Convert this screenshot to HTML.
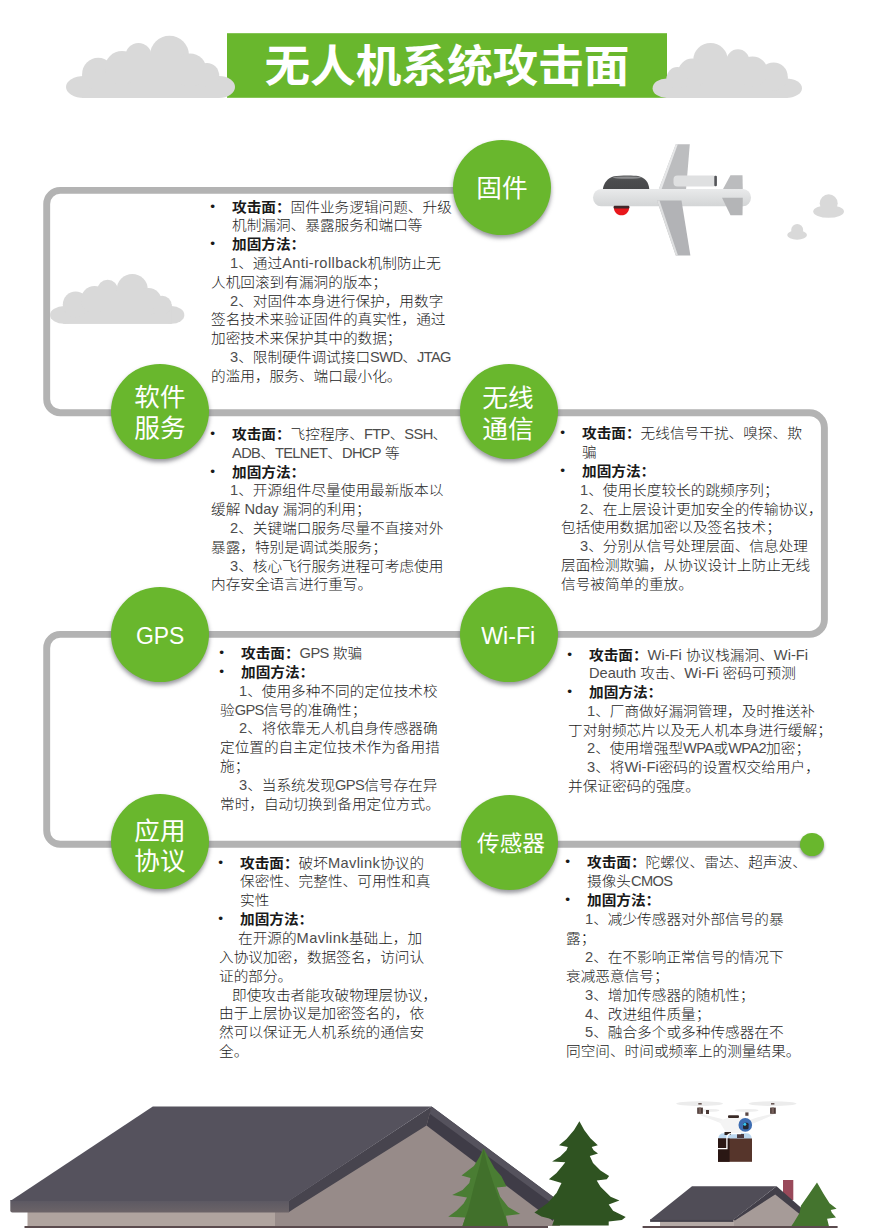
<!DOCTYPE html>
<html lang="zh-CN">
<head>
<meta charset="utf-8">
<title>无人机系统攻击面</title>
<style>
html,body{margin:0;padding:0;background:#fff;}
body{width:874px;height:1228px;position:relative;overflow:hidden;font-family:"Liberation Sans","Noto Sans CJK SC",sans-serif;color:#1a1a1a;}
#art{position:absolute;left:0;top:0;width:874px;height:1228px;}
.banner{position:absolute;left:227px;top:33px;width:440px;height:65px;background:#69b72d;}
.title{position:absolute;left:227px;top:33px;width:440px;height:65px;line-height:65px;text-align:center;color:#fff;font-weight:700;font-size:44.3px;transform:scaleX(1.03);padding-top:1px;white-space:nowrap;letter-spacing:0;}
.node{position:absolute;width:97.8px;height:95.1px;border-radius:50%;background:#69b72d;box-shadow:0 3px 4px rgba(50,50,62,.5);color:#fff;text-align:center;font-size:24.9px;line-height:30.7px;box-sizing:border-box;display:flex;align-items:center;justify-content:center;white-space:nowrap;}
.node.lat{font-size:22.5px;}
.node span{display:block;transform:scaleX(1.03);}
.dot{position:absolute;left:800px;top:833px;width:24px;height:23.2px;border-radius:50%;background:#69b72d;box-shadow:0 2px 3px rgba(40,40,60,.5);}
.txt{position:absolute;font-size:13.9px;transform:scaleX(1.055);transform-origin:0 0;line-height:18.8px;font-weight:300;white-space:nowrap;}
.txt div{position:relative;}
.txt b{font-weight:700;}
.txt .b{padding-left:19.9px;}
.txt .b.k::before{content:"•";position:absolute;left:-0.8px;top:0;font-size:13px;font-weight:400;font-family:"Liberation Sans",sans-serif;}
.txt .i{padding-left:18px;}
.txt .c{letter-spacing:-0.6px;color:#4d4d4d;}
.txt .l{letter-spacing:0.35px;color:#4d4d4d;}
.txt .e{color:#4d4d4d;}
.txt .j{padding-left:12.3px;}
</style>
</head>
<body>
<svg id="art" viewBox="0 0 874 1228" width="874" height="1228">
<defs>
<g id="cloud" fill="#d9d9d9">
<ellipse cx="18" cy="51.4" rx="18" ry="11"/><ellipse cx="153" cy="51.4" rx="16" ry="11"/><rect x="18" y="40.4" width="135" height="22"/>
<rect x="16.2" y="38" width="137" height="24.4"/>
<circle cx="32.2" cy="38.2" r="16"/>
<circle cx="56" cy="32.4" r="17"/>
<circle cx="72.5" cy="20.4" r="13"/>
<circle cx="103.5" cy="19.7" r="19.5"/>
<circle cx="124" cy="34.4" r="16.5"/>
<circle cx="141" cy="39.4" r="12"/>
<rect x="45" y="22" width="80" height="23"/>
</g>
</defs>

<path d="M 470 190.4 H 60.2 A 13.5 13.5 0 0 0 46.7 203.9 V 399.2 A 13.5 13.5 0 0 0 60.2 412.7 H 809.4 A 15 15 0 0 1 824.4 427.7 V 619.4 A 15 15 0 0 1 809.4 634.4 H 60.2 A 13.5 13.5 0 0 0 46.7 647.9 V 830.8 A 13.5 13.5 0 0 0 60.2 844.3 H 812" fill="none" stroke="#b3b3b3" stroke-width="6.9"/>
<rect x="227" y="33.2" width="440" height="64.6" fill="#69b72d"/>
<use href="#cloud" transform="translate(66 35.6)"/>
<use href="#cloud" transform="translate(802 42.8) scale(-0.884 0.884)"/>
<use href="#cloud" transform="translate(50 273.8) scale(0.795 0.8)"/>
<g fill="#d9d9d9">
<circle cx="828.7" cy="203.3" r="9"/><ellipse cx="828.6" cy="211.5" rx="15.4" ry="6.3"/>
<circle cx="797.2" cy="230" r="6"/><ellipse cx="797.1" cy="235" rx="9.9" ry="4.7"/>
</g>

<g id="aircraft">
<defs>
<linearGradient id="fus" x1="0" y1="0" x2="0" y2="1"><stop offset="0" stop-color="#e9eaeb"/><stop offset="1" stop-color="#d3d5d6"/></linearGradient>
<linearGradient id="dome" x1="0" y1="0" x2="0" y2="1"><stop offset="0" stop-color="#5a5b5d"/><stop offset="0.4" stop-color="#4b4c4e"/><stop offset="1" stop-color="#47484a"/></linearGradient>
</defs>
<polygon points="730.5,175.2 742.5,175.2 742.8,190 722.5,190" fill="#bbbcbe"/>
<polygon points="675.8,144.3 689.8,144.3 686,190 658.5,190" fill="#bcbdbf"/>
<polygon points="675.8,144.3 677.8,144.3 661.3,190 658.5,190" fill="#e6e7e8"/>
<rect x="673.5" y="175.4" width="43.4" height="11.2" rx="4" ry="4" fill="#dfe0e1"/>
<rect x="714.3" y="175.8" width="2.6" height="10.4" rx="1" fill="#55565a"/>
<path d="M602.8,189.5 C603.5,183 608,177.5 614,176.2 C620,175.2 634,175.2 638,176 C645,177.5 648.8,182 649.3,189.5 Z" fill="url(#dome)"/>
<ellipse cx="627" cy="177.6" rx="14" ry="1.1" fill="#8e8f91"/>
<path d="M613.8,207 H629.2 C629.2,212 626,215.3 621.5,215.3 C617,215.3 613.8,212 613.8,207 Z" fill="#e8171c"/>
<rect x="593" y="189" width="158" height="17.2" rx="8" ry="8.6" fill="url(#fus)"/>
<rect x="613.6" y="205.8" width="15.8" height="2.7" rx="1" fill="#40282b"/>
<polygon points="722,197.8 742.8,197.8 742.5,215.3 730.5,215.3" fill="#b4b5b7"/>
<polygon points="657,200.5 681.5,200.5 690.4,255.6 675.8,255.6" fill="#b2b3b6"/>
<polygon points="657,200.5 659.5,200.5 678,255.6 675.8,255.6" fill="#dedfe0"/>
</g>


<g id="bighouse">
<!-- gable wall -->
<polygon points="430,1109 287,1203 275,1212 275,1226 560,1226 555,1206" fill="#978b89"/>
<!-- left wall light -->
<rect x="27.5" y="1211" width="247.5" height="15" fill="#b0a49f"/>
<!-- ground -->
<rect x="24.5" y="1226" width="523.5" height="2" fill="#5b4b4e"/>
<!-- right rake band: dark under, light top -->
<polygon points="431.6,1106.5 557.5,1200 553,1221 426.5,1125.4" fill="#3f3c47"/>
<polygon points="431.6,1106.5 557.5,1200 555.5,1206 429.5,1113.5" fill="#55525d"/>
<!-- left rake band -->
<polygon points="431.6,1106.5 426.5,1125.4 294.3,1208.6 289,1212 289,1200.5" fill="#47444e"/>
<!-- fascia -->
<linearGradient id="fas" x1="0" y1="0" x2="0" y2="1"><stop offset="0" stop-color="#5b5862"/><stop offset="1" stop-color="#6c6468"/></linearGradient><path d="M10.3,1200 H289 V1212.5 H12.3 Q10.3,1212.5 10.3,1210.5 Z" fill="url(#fas)"/>
<!-- roof -->
<polygon points="152.8,1106.5 431.6,1106.5 289,1201 10.3,1201" fill="#55525d"/>
</g>
<g id="trees">
<polygon points="483.6,1148.2 488.8,1157.9 494.5,1168.2 501.4,1176.2 506.5,1186.5 496.8,1187.6 500.2,1196.8 508.2,1207.1 520.2,1213.9 505.9,1215.7 508.2,1226.0 462.5,1226.0 465.3,1217.4 448.2,1216.8 456.7,1210.5 463.6,1203.6 467.0,1197.4 452.2,1195.1 462.5,1189.9 469.3,1183.1 470.5,1177.9 461.5,1175.6 473.9,1165.9 479.6,1156.7" fill="#4a7d33"/>
<polygon points="483.6,1148.2 487.1,1163.6 494.5,1186.5 502.5,1209.4 508.2,1226.0 462.5,1226.0 468.2,1209.4 473.9,1186.5 480.2,1163.6" fill="#41702b"/>
<polygon points="579.4,1121.3 584.2,1130.1 590.4,1138.3 597.8,1145.2 591.7,1147.1 593.6,1150.3 598.0,1153.4 589.8,1155.9 593.0,1162.9 600.5,1170.4 609.1,1176.1 606.8,1179.2 596.7,1180.5 600.5,1186.8 610.6,1196.8 619.4,1200.6 608.7,1204.4 613.1,1210.7 625.7,1217.0 621.9,1220.1 608.7,1221.4 608.7,1225.5 552.1,1225.5 554.2,1219.8 541.4,1216.4 534.4,1212.6 547.7,1203.1 556.5,1193.1 561.5,1183.0 548.9,1179.2 556.5,1172.9 562.8,1165.4 565.3,1162.2 552.1,1161.6 560.2,1156.6 566.5,1150.3 567.8,1147.1 559.0,1145.2 566.5,1138.9 574.1,1130.1" fill="#2f5321"/>
</g>
<g id="smallhouse">
<rect x="783" y="1180" width="10.3" height="20" fill="#99495a"/>
<polygon points="775.2,1193.5 800.5,1213 812,1226 733,1226 733,1219.8" fill="#a69b98"/>
<rect x="660" y="1219" width="74" height="7.5" fill="#b5aaa6"/>
<polygon points="776.6,1186.3 806,1212 802,1216 775.2,1194.5 735,1220.5 733,1219.8" fill="#423f49"/>
<polygon points="692,1186.3 776.6,1186.3 733.3,1219.8 650.1,1219.8" fill="#504d57"/>
<rect x="650.1" y="1219.3" width="83.2" height="2.6" fill="#45424c"/>
<rect x="642.6" y="1226" width="195" height="2" fill="#5b4b4e"/>
<polygon points="817.0,1182.5 823.5,1193.8 829.5,1203.3 836.6,1208.7 830.7,1209.9 831.9,1212.8 836.0,1217.6 827.1,1218.8 828.9,1225.9 791.4,1225.9 793.8,1222.4 799.7,1212.8 800.9,1205.7 809.3,1193.8" fill="#44742e"/>
</g>


<g id="drone">
<ellipse cx="699.6" cy="1103.6" rx="23.5" ry="2.4" fill="#ececec"/>
<ellipse cx="772.5" cy="1103.6" rx="24" ry="2.4" fill="#ececec"/>
<ellipse cx="708.5" cy="1110.4" rx="11" ry="1.5" fill="#eeeeee"/>
<ellipse cx="746.6" cy="1110.4" rx="12" ry="1.5" fill="#eeeeee"/>
<rect x="698.3" y="1103" width="3.4" height="1.6" fill="#6b5a57"/>
<rect x="771" y="1103" width="3.4" height="1.6" fill="#6b5a57"/>
<path d="M697.5,1113 L701,1115.5 L723,1124 L727,1131 L733,1130 L722,1119 Z" fill="#f1f1f1"/>
<path d="M775.5,1113 L772,1115.5 L752,1124 L748,1128 L744,1122 L757,1117.5 Z" fill="#f1f1f1"/>
<rect x="697.2" y="1107.6" width="5.7" height="6.2" fill="#4a3936"/>
<rect x="698.6" y="1107.6" width="2.4" height="6.2" fill="#75605b"/>
<rect x="770.1" y="1107.6" width="5.7" height="6.2" fill="#4a3936"/>
<rect x="771.5" y="1107.6" width="2.4" height="6.2" fill="#75605b"/>
<rect x="706" y="1110" width="3" height="4" fill="#4a3936"/>
<rect x="745.3" y="1112.4" width="3.2" height="3.4" fill="#5a4845"/>
<path d="M719,1121 L729,1117.5 H745 L753,1122 L750,1130 L738,1134 H727 Z" fill="#f4f4f4"/>
<rect x="728" y="1115.3" width="11" height="2.8" rx="1" fill="#3a2a26"/>
<path d="M718.3,1139 Q718.3,1133.2 724,1133.2 H746 Q751.7,1133.2 751.7,1139 Z" fill="#bbd7ef"/>
<rect x="724.5" y="1132" width="6.5" height="3" fill="#2d2220"/>
<rect x="737" y="1134" width="7" height="4" fill="#4a3a40"/>
<circle cx="745.3" cy="1124.9" r="6.8" fill="#3d6db2"/>
<rect x="743" y="1122.7" width="5.6" height="6.6" rx="1.5" fill="#262833"/>
<circle cx="744.8" cy="1124.2" r="1.5" fill="#35c4f0"/>
<rect x="718" y="1138.5" width="34" height="23.3" fill="#56352b"/>
<rect x="718" y="1138.5" width="11.6" height="23.3" fill="#2a1714"/>
<path d="M718,1148.6 H726.9 V1138.5 Q727,1133.7 732,1133.7 H741" fill="none" stroke="#ffffff" stroke-width="1.3"/>
</g>


</svg>
<div class="title">无人机系统攻击面</div>

<div class="node" style="left:453.1px;top:140.4px;padding-top:0.6px;padding-left:0.8px;"><span>固件</span></div>
<div class="node" style="left:111.1px;top:363.6px;padding-top:3.8px;padding-right:1.2px;"><span>软件<br>服务</span></div>
<div class="node" style="left:459.9px;top:364.1px;padding-top:5.0px;padding-right:1.4px;"><span>无线<br>通信</span></div>
<div class="node lat" style="left:111.1px;top:587.4px;padding-top:3.6px;padding-left:0.8px;font-size:24.8px;"><span style="transform:scaleX(0.925);">GPS</span></div>
<div class="node lat" style="left:460.1px;top:587.2px;padding-top:3.4px;padding-right:1.0px;font-size:24.2px;"><span style="transform:scaleX(0.96);">Wi-Fi</span></div>
<div class="node" style="left:111.1px;top:794.2px;padding-top:9.2px;padding-right:0.6px;"><span>应用<br>协议</span></div>
<div class="node" style="left:460.7px;top:794.5px;padding-top:4.0px;padding-left:2.0px;font-size:22px;"><span>传感器</span></div>
<div class="dot"></div>

<div class="txt" style="left:211.4px;top:197.7px;">
<div class="b k"><b>攻击面：</b>固件业务逻辑问题、升级</div>
<div class="b">机制漏洞、暴露服务和端口等</div>
<div class="b k"><b>加固方法：</b></div>
<div class="i"><span class="e">1</span>、通过<span class="l">Anti-rollback</span>机制防止无</div>
<div>人机回滚到有漏洞的版本；</div>
<div class="i"><span class="e">2</span>、对固件本身进行保护，用数字</div>
<div>签名技术来验证固件的真实性，通过</div>
<div>加密技术来保护其中的数据；</div>
<div class="i"><span class="e">3</span>、限制硬件调试接口<span class="c">SWD</span>、<span class="c">JTAG</span></div>
<div>的滥用，服务、端口最小化。</div>
</div>
<div class="txt" style="left:211.4px;top:425.1px;">
<div class="b k"><b>攻击面：</b>飞控程序、<span class="c">FTP</span>、<span class="c">SSH</span>、</div>
<div class="b"><span class="c">ADB</span>、<span class="c">TELNET</span>、<span class="c">DHCP</span> 等</div>
<div class="b k"><b>加固方法：</b></div>
<div class="i"><span class="e">1</span>、开源组件尽量使用最新版本以</div>
<div>缓解 <span class="e">Nday</span> 漏洞的利用；</div>
<div class="i"><span class="e">2</span>、关键端口服务尽量不直接对外</div>
<div>暴露，特别是调试类服务；</div>
<div class="i"><span class="e">3</span>、核心飞行服务进程可考虑使用</div>
<div>内存安全语言进行重写。</div>
</div>
<div class="txt" style="left:561.2px;top:424.4px;">
<div class="b k"><b>攻击面：</b>无线信号干扰、嗅探、欺</div>
<div class="b">骗</div>
<div class="b k"><b>加固方法：</b></div>
<div class="i"><span class="e">1</span>、使用长度较长的跳频序列；</div>
<div class="i"><span class="e">2</span>、在上层设计更加安全的传输协议，</div>
<div>包括使用数据加密以及签名技术；</div>
<div class="i"><span class="e">3</span>、分别从信号处理层面、信息处理</div>
<div>层面检测欺骗，从协议设计上防止无线</div>
<div>信号被简单的重放。</div>
</div>
<div class="txt" style="left:219.9px;top:644.2px;">
<div class="b k"><b>攻击面：</b><span class="c">GPS</span> 欺骗</div>
<div class="b k"><b>加固方法：</b></div>
<div class="i"><span class="e">1</span>、使用多种不同的定位技术校</div>
<div>验<span class="c">GPS</span>信号的准确性；</div>
<div class="i"><span class="e">2</span>、将依靠无人机自身传感器确</div>
<div>定位置的自主定位技术作为备用措</div>
<div>施；</div>
<div class="i"><span class="e">3</span>、当系统发现<span class="c">GPS</span>信号存在异</div>
<div>常时，自动切换到备用定位方式。</div>
</div>
<div class="txt" style="left:568.4px;top:645.5px;">
<div class="b k"><b>攻击面：</b><span class="e">Wi-Fi</span> 协议栈漏洞、<span class="e">Wi-Fi</span></div>
<div class="b"><span class="e">Deauth</span> 攻击、<span class="e">Wi-Fi</span> 密码可预测</div>
<div class="b k"><b>加固方法：</b></div>
<div class="i"><span class="e">1</span>、厂商做好漏洞管理，及时推送补</div>
<div>丁对射频芯片以及无人机本身进行缓解；</div>
<div class="i"><span class="e">2</span>、使用增强型<span class="c">WPA</span>或<span class="c">WPA2</span>加密；</div>
<div class="i"><span class="e">3</span>、将<span class="e">Wi-Fi</span>密码的设置权交给用户，</div>
<div>并保证密码的强度。</div>
</div>
<div class="txt" style="left:218.9px;top:853.6px;line-height:18.86px;">
<div class="b k"><b>攻击面：</b>破坏<span class="l">Mavlink</span>协议的</div>
<div class="b">保密性、完整性、可用性和真</div>
<div class="b">实性</div>
<div class="b k"><b>加固方法：</b></div>
<div class="i">在开源的<span class="l">Mavlink</span>基础上，加</div>
<div>入协议加密，数据签名，访问认</div>
<div>证的部分。</div>
<div class="j">即使攻击者能攻破物理层协议，</div>
<div>由于上层协议是加密签名的，依</div>
<div>然可以保证无人机系统的通信安</div>
<div>全。</div>
</div>
<div class="txt" style="left:565.9px;top:853.4px;line-height:18.89px;">
<div class="b k"><b>攻击面：</b>陀螺仪、雷达、超声波、</div>
<div class="b">摄像头<span class="c">CMOS</span></div>
<div class="b k"><b>加固方法：</b></div>
<div class="i"><span class="e">1</span>、减少传感器对外部信号的暴</div>
<div>露；</div>
<div class="i"><span class="e">2</span>、在不影响正常信号的情况下</div>
<div>衰减恶意信号；</div>
<div class="i"><span class="e">3</span>、增加传感器的随机性；</div>
<div class="i"><span class="e">4</span>、改进组件质量；</div>
<div class="i"><span class="e">5</span>、融合多个或多种传感器在不</div>
<div>同空间、时间或频率上的测量结果。</div>
</div>
</body>
</html>
